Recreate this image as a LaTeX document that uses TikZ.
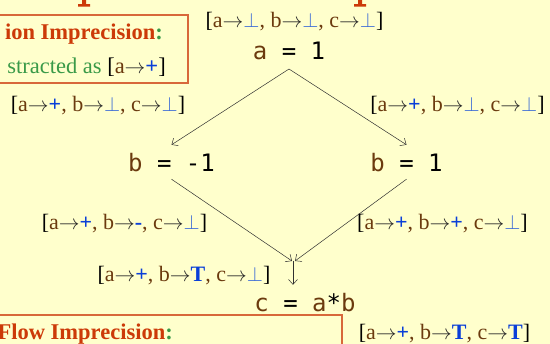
\documentclass[tikz,border=0pt]{standalone}
\usepackage{fontspec}
\setmainfont{Liberation Serif}
\newfontfamily\codefont{DejaVu Sans Mono}
\usetikzlibrary{arrows.meta}
\definecolor{bg}{HTML}{FFFFCC}
\definecolor{brn}{HTML}{6B3A0E}
\definecolor{pblue}{HTML}{0A3FD8}
\definecolor{lblue}{HTML}{3A6AD6}
\definecolor{ttlred}{HTML}{CC3A08}
\definecolor{boxred}{HTML}{D8683A}
\definecolor{grn}{HTML}{3A9A48}
\definecolor{arrgray}{HTML}{303030}
\newcommand{\vA}[1]{\textcolor{brn}{#1}}
\newcommand{\mto}{\textcolor{black!85}{$\rightarrow$}}
\newcommand{\pls}{\textcolor{pblue}{\textbf{+}}}
\newcommand{\bttm}{\textcolor{lblue}{$\perp$}}
\newcommand{\tpp}{\textcolor{pblue}{\textbf{T}}}
\newcommand{\mns}{\textcolor{pblue}{\textbf{-}}}
\newcommand{\cm}{\vA{,}}
\newcommand{\stt}[3]{[\vA{a}\mto#1\cm{} \vA{b}\mto#2\cm{} \vA{c}\mto#3]}
\tikzset{
  lbl/.style={inner sep=0pt, font=\fontsize{22}{25}\selectfont},
  codenode/.style={anchor=base, inner sep=0pt, text height=27pt, text depth=7pt, font=\codefont\fontsize{24}{28}\selectfont},
  boxtxt/.style={inner sep=0pt, anchor=base east, font=\fontsize{22.5}{26}\selectfont},
  notebox/.style={draw=boxred, line width=1.2pt},
  flowarr/.style={draw=arrgray, line width=0.5pt, -{Straight Barb[length=5pt,width=9pt]}}
}
\begin{document}
\begin{tikzpicture}[x=1pt,y=-1pt]
\fill[bg] (0,0) rectangle (550,344);
\useasboundingbox (0,0) rectangle (550,344);
% fragments of the title (cropped)
\fill[ttlred] (82,0) rectangle (86,5) (78,4.2) rectangle (90,6.6);
\fill[ttlred] (358,0) rectangle (362,5) (354,4.2) rectangle (366,6.6);
% note boxes
\draw[notebox] (-5,15) rectangle (188,83);
\node[boxtxt] (t1) at (163,40) {\textcolor{ttlred}{\textbf{ion Imprecision}}\textcolor{grn}{\textbf{:}}};
\node[boxtxt] (t2) at (166,74) {\textcolor{grn}{stracted as }[\vA{a}\mto\pls]};
\draw[notebox] (-5,315) rectangle (342,360);
\node[boxtxt] (t3) at (173,340) {\textcolor{ttlred}{\textbf{Flow Imprecision}}\textcolor{grn}{\textbf{:}}};
% code nodes
\node[codenode] (a) at (289,60) {\vA{a} = 1};
\node[codenode] (bl) at (171.5,172) {\vA{b} = -1};
\node[codenode] (br) at (406.5,172) {\vA{b} = 1};
\node[codenode] (c) at (305,312) {\vA{c} = \vA{a}*\vA{b}};
% state labels
\node[lbl] (s0) at (294.5,22) {\stt{\bttm}{\bttm}{\bttm}};
\node[lbl] (s1) at (98,106) {\stt{\pls}{\bttm}{\bttm}};
\node[lbl] (s2) at (457.5,106) {\stt{\pls}{\bttm}{\bttm}};
\node[lbl] (s3) at (124.5,224) {\stt{\pls}{\mns}{\bttm}};
\node[lbl] (s4) at (442.5,224) {\stt{\pls}{\pls}{\bttm}};
\node[lbl] (s5) at (184,276) {\stt{\pls}{\tpp}{\bttm}};
\node[lbl] (s6) at (444.5,334) {\stt{\pls}{\tpp}{\tpp}};
% connectors
\coordinate (fork) at (289,69);
\coordinate (join) at (293,261);
\draw[flowarr] (fork) -- (bl.north);
\draw[flowarr] (fork) -- (br.north);
\draw[flowarr] (bl.south) -- ([xshift=-1pt]join);
\draw[flowarr] (br.south) -- ([xshift=2pt]join);
\draw[flowarr] (join) -- (join |- c.north);
\end{tikzpicture}
\end{document}
